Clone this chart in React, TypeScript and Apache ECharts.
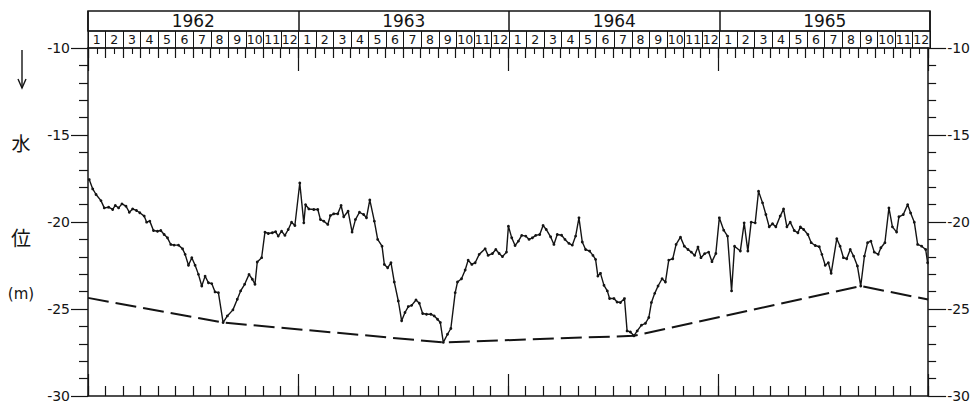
import React, { useEffect, useRef } from "react";
import * as echarts from "echarts";

// Calendar header
const years = ["1962", "1963", "1964", "1965"];
const monthNumbers = ["1", "2", "3", "4", "5", "6", "7", "8", "9", "10", "11", "12"];

// Level axis (m)
const levelMin = -30;
const levelMax = -10;
const levelStep = 5;

// Observed water level: time in months since 1962-01-01, level in metres
const obsMonth = [
  0.07, 0.27, 0.46, 0.74, 0.93, 1.18, 1.41, 1.56, 1.75, 1.94, 2.17, 2.36, 2.55, 2.77, 2.96,
  3.21, 3.35, 3.53, 3.74, 3.97, 4.16, 4.35, 4.54, 4.73, 4.92, 5.17, 5.4, 5.55, 5.74, 5.93,
  6.12, 6.31, 6.5, 6.69, 6.88, 7.07, 7.26, 7.45, 7.72, 7.96, 8.28, 8.53, 8.72, 8.95, 9.2,
  9.39, 9.54, 9.67, 9.92, 10.11, 10.3, 10.53, 10.72, 10.87, 11.06, 11.25, 11.44, 11.63, 11.82,
  12.1, 12.33, 12.43, 12.62, 12.9, 13.13, 13.28, 13.47, 13.7, 13.85, 14.04, 14.27, 14.46,
  14.61, 14.86, 15.09, 15.28, 15.51, 15.75, 15.91, 16.1, 16.36, 16.55, 16.8, 16.93, 17.12,
  17.31, 17.5, 17.73, 17.92, 18.11, 18.3, 18.49, 18.74, 18.93, 19.12, 19.34, 19.59, 19.78,
  19.97, 20.13, 20.3, 20.54, 20.73, 20.98, 21.11, 21.34, 21.55, 21.72, 21.93, 22.12, 22.35,
  22.69, 22.86, 23.11, 23.3, 23.49, 23.68, 23.91, 24.02, 24.21, 24.4, 24.59, 24.78, 25.01,
  25.2, 25.39, 25.58, 25.81, 26.0, 26.18, 26.43, 26.62, 26.81, 27.06, 27.25, 27.48, 27.67,
  27.86, 28.05, 28.24, 28.43, 28.66, 28.85, 29.0, 29.13, 29.28, 29.48, 29.67, 29.8, 30.05,
  30.23, 30.42, 30.65, 30.8, 30.99, 31.19, 31.38, 31.62, 31.85, 32.04, 32.19, 32.38, 32.57,
  32.8, 32.99, 33.18, 33.41, 33.6, 33.85, 34.07, 34.28, 34.47, 34.66, 34.85, 35.02, 35.23,
  35.46, 35.65, 35.87, 36.07, 36.32, 36.54, 36.77, 36.94, 37.27, 37.49, 37.7, 37.89, 38.12,
  38.31, 38.54, 38.73, 38.92, 39.11, 39.3, 39.55, 39.74, 39.93, 40.12, 40.35, 40.56, 40.7,
  40.89, 41.13, 41.32, 41.55, 41.78, 41.93, 42.12, 42.3, 42.46, 42.78, 42.97, 43.16, 43.35,
  43.55, 43.74, 43.96, 44.15, 44.36, 44.54, 44.73, 44.92, 45.15, 45.3, 45.53, 45.76, 45.96,
  46.2, 46.33, 46.58, 46.83, 47.0, 47.21, 47.4, 47.63, 47.86, 47.97,
];
const obsLevel = [
  -17.56, -18.1, -18.42, -18.77, -19.19, -19.15, -19.28, -19.05, -19.19, -18.96, -19.09, -19.44,
  -19.25, -19.34, -19.47, -19.66, -20.01, -19.95, -20.49, -20.53, -20.49, -20.72, -20.91, -21.29,
  -21.33, -21.33, -21.54, -21.86, -22.49, -22.05, -22.49, -23.01, -23.68, -23.11, -23.49, -23.54,
  -24.02, -24.06, -25.78, -25.4, -25.05, -24.44, -23.96, -23.58, -23.01, -23.29, -23.58, -22.3,
  -22.05, -20.58, -20.66, -20.62, -20.56, -20.81, -20.53, -20.77, -20.43, -20.01, -20.2, -17.76,
  -20.05, -19.0, -19.25, -19.28, -19.28, -19.86, -19.95, -20.14, -19.63, -19.53, -19.53, -19.05,
  -19.7, -19.38, -20.58, -19.86, -19.44, -19.57, -19.76, -18.73, -19.95, -21.0, -21.39, -22.44,
  -22.63, -22.34, -23.45, -24.54, -25.68, -25.2, -24.86, -24.79, -24.48, -24.67, -25.26, -25.3,
  -25.3, -25.4, -25.59, -25.78, -26.92, -26.45, -26.12, -24.06, -23.45, -23.26, -22.76, -22.19,
  -22.44, -22.34, -21.86, -21.54, -21.92, -21.81, -21.58, -21.81, -21.99, -21.73, -20.24, -20.91,
  -21.35, -21.1, -20.77, -20.81, -21.0, -20.91, -20.77, -20.72, -20.2, -20.43, -20.85, -21.29,
  -20.72, -20.76, -21.0, -21.23, -21.33, -20.81, -19.76, -21.15, -21.58, -21.67, -21.92, -22.15,
  -23.11, -22.95, -23.64, -23.96, -24.4, -24.4, -24.6, -24.63, -24.4, -26.26, -26.32, -26.54,
  -26.26, -25.93, -25.82, -25.49, -24.63, -24.1, -23.68, -23.26, -23.45, -22.19, -22.11, -21.29,
  -20.87, -21.39, -21.58, -21.73, -21.92, -21.44, -22.05, -21.82, -21.73, -22.28, -21.81, -19.76,
  -20.47, -20.81, -23.96, -21.39, -21.67, -20.05, -21.67, -20.01, -20.05, -18.23, -18.9, -19.57,
  -20.28, -20.1, -20.28, -19.66, -19.25, -20.28, -20.01, -20.49, -20.62, -20.28, -20.43, -20.72,
  -21.19, -21.35, -21.42, -21.86, -22.49, -22.34, -22.95, -20.96, -21.39, -22.05, -22.11, -21.58,
  -21.96, -22.53, -23.68, -21.96, -21.19, -21.1, -21.73, -21.86, -21.48, -21.19, -19.19, -20.28,
  -20.58, -19.7, -19.57, -19.0, -19.48, -20.01, -21.29, -21.39, -21.58, -22.34,
];

// Lower envelope through the seasonal minima
const baseMonth = [0, 7.72, 20.3, 31.19, 44.15, 48];
const baseLevel = [-24.36, -25.78, -26.92, -26.54, -23.68, -24.46];

const INK = "#141414";
const FONT = "'DejaVu Sans', 'Liberation Sans', sans-serif";
const CJK = "'Noto Sans CJK JP', 'Noto Sans CJK SC', sans-serif";

const monthCells = years.flatMap((y) => monthNumbers.map((m) => `${y}-${m}`));
const totalMonths = years.length * 12;

const PLOT_LEFT = 88;
const PLOT_RIGHT = 43;

function buildOption(): echarts.EChartsOption {
  const hiddenValueAxis = (gridIndex: number) => ({
    gridIndex,
    type: "value" as const,
    show: false,
    min: 0,
    max: 1,
  });

  const timeAxis = (position: "top" | "bottom", interval: number, tickLen: number, minor: boolean, line: boolean) => ({
    gridIndex: 0,
    type: "value" as const,
    min: 0,
    max: totalMonths,
    interval,
    position,
    axisLine: { show: line, onZero: false, lineStyle: { color: INK, width: 1.5 } },
    axisTick: { show: true, inside: true, length: tickLen, lineStyle: { color: INK, width: 1.2 } },
    minorTick: { show: minor, splitNumber: 2, length: 6, lineStyle: { color: INK, width: 1.1 } },
    axisLabel: { show: false },
    splitLine: { show: false },
  });

  const levelAxis = (position: "left" | "right", tickLen: number, minorLen: number, margin: number) => ({
    gridIndex: 0,
    type: "value" as const,
    min: levelMin,
    max: levelMax,
    interval: levelStep,
    position,
    axisLine: { show: true, onZero: false, lineStyle: { color: INK, width: 1.5 } },
    axisTick: { show: true, inside: false, length: tickLen, lineStyle: { color: INK, width: 1.2 } },
    minorTick: { show: true, splitNumber: 5, length: minorLen, lineStyle: { color: INK, width: 1.2 } },
    axisLabel: { margin, fontSize: 14, color: INK, fontFamily: FONT },
    splitLine: { show: false },
  });

  return {
    animation: false,
    backgroundColor: "#ffffff",
    textStyle: { fontFamily: FONT },
    grid: [
      { left: PLOT_LEFT, right: PLOT_RIGHT, top: 48, height: 349 },
      { left: PLOT_LEFT, right: PLOT_RIGHT, top: 11, height: 20, show: true, borderColor: INK, borderWidth: 1.5 },
      { left: PLOT_LEFT, right: PLOT_RIGHT, top: 31, height: 17, show: true, borderColor: INK, borderWidth: 1.2 },
    ],
    xAxis: [
      {
        gridIndex: 1,
        type: "category",
        data: years,
        boundaryGap: true,
        axisLine: { show: false },
        axisTick: { show: false },
        axisLabel: { interval: 0, inside: true, margin: 10, verticalAlign: "middle", fontSize: 17, color: INK, fontFamily: FONT },
        splitLine: { show: true, interval: 0, lineStyle: { color: INK, width: 1.5 } },
      },
      {
        gridIndex: 2,
        type: "category",
        data: monthCells,
        boundaryGap: true,
        axisLine: { show: false },
        axisTick: { show: false },
        axisLabel: {
          interval: 0,
          inside: true,
          margin: 8.5,
          verticalAlign: "middle",
          fontSize: 12.5,
          color: INK,
          fontFamily: FONT,
          formatter: (v: string) => v.split("-")[1],
        },
        splitLine: { show: true, interval: 0, lineStyle: { color: INK, width: 1 } },
      },
      timeAxis("bottom", 1, 10, false, true),
      timeAxis("bottom", 12, 22, false, false),
      timeAxis("top", 1, 10, true, true),
      timeAxis("top", 12, 23, false, false),
    ],
    yAxis: [
      levelAxis("left", 17, 9, 18),
      levelAxis("right", 18, 8, 19),
      hiddenValueAxis(1),
      hiddenValueAxis(2),
    ],
    series: [
      {
        type: "line",
        xAxisIndex: 2,
        yAxisIndex: 0,
        data: baseMonth.map((m, i) => [m, baseLevel[i]]),
        symbol: "none",
        lineStyle: { color: INK, width: 2, type: [21, 7] },
        silent: true,
        z: 3,
      },
      {
        type: "line",
        xAxisIndex: 2,
        yAxisIndex: 0,
        data: obsMonth.map((m, i) => [m, obsLevel[i]]),
        symbol: "circle",
        symbolSize: 2.8,
        itemStyle: { color: INK },
        lineStyle: { color: INK, width: 1.4 },
        silent: true,
        z: 4,
      },
    ],
    graphic: [
      // downward arrow beside the level-axis title
      {
        type: "line",
        shape: { x1: 22, y1: 50, x2: 22, y2: 88 },
        style: { stroke: INK, lineWidth: 1.4 },
      },
      {
        type: "polyline",
        shape: { points: [[18, 79], [22, 88], [26, 79]] },
        style: { stroke: INK, lineWidth: 1.4, fill: "none" },
      },
      {
        type: "text",
        x: 21,
        y: 142,
        style: { text: "水", font: `19px ${CJK}`, fill: INK, align: "center", verticalAlign: "middle" },
      },
      {
        type: "text",
        x: 21,
        y: 237,
        style: { text: "位", font: `20px ${CJK}`, fill: INK, align: "center", verticalAlign: "middle" },
      },
      {
        type: "text",
        x: 21,
        y: 294,
        style: { text: "(m)", font: `15px ${FONT}`, fill: INK, align: "center", verticalAlign: "middle" },
      },
    ],
  };
}

export default function App() {
  const ref = useRef<HTMLDivElement>(null);

  useEffect(() => {
    if (!ref.current) return;
    const chart = echarts.init(ref.current, undefined, { renderer: "svg" });
    chart.setOption(buildOption());
    return () => chart.dispose();
  }, []);

  return (
    <div
      ref={ref}
      style={{ position: "fixed", left: 0, top: 0, width: 973, height: 403, background: "#fff" }}
    />
  );
}
